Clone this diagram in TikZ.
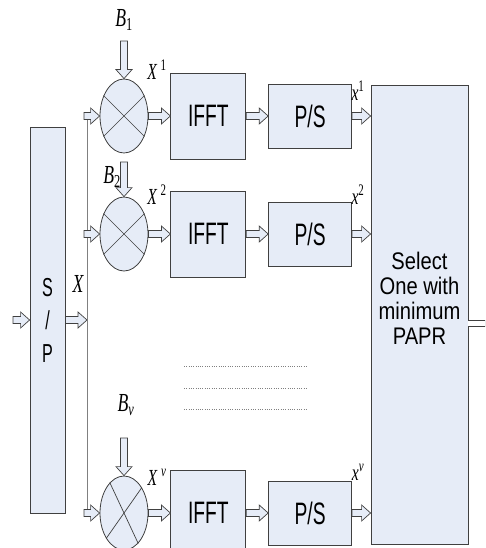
\documentclass[tikz,border=0pt]{standalone}
\usepackage{fontspec}
\setmainfont{Liberation Serif}
\newfontfamily\boxfont[FakeStretch=0.62]{Liberation Sans}
\newfontfamily\selfont[FakeStretch=0.84]{Liberation Sans}
\newfontfamily\labfont[FakeStretch=0.68]{Liberation Serif}
\usetikzlibrary{shapes.geometric, positioning, calc}
\definecolor{slmFill}{RGB}{230, 236, 247}
\definecolor{slmLine}{RGB}{64, 64, 64}
\definecolor{slmGray}{RGB}{128, 128, 128}

\begin{document}
\begin{tikzpicture}[
      x=1pt, y=-1pt,
      node distance = 22pt,
      block/.style = {draw=slmLine, fill=slmFill, line width=0.8pt,
                      inner sep=0pt, font=\boxfont\fontsize{31}{31}\selectfont},
      mult/.style  = {draw=slmLine, fill=slmFill, line width=0.8pt, ellipse,
                      minimum width=48pt, minimum height=74pt, inner sep=0pt},
      lab/.style   = {inner sep=0pt, font=\labfont\itshape\fontsize{23}{23}\selectfont},
      hollow/.style = {draw=slmLine, fill=slmFill, line width=0.7pt,
        to path={
          ($(\tikztostart)!3.5pt!90:(\tikztotarget)$)
          -- ($($(\tikztotarget)!9pt!(\tikztostart)$)!3.5pt!90:(\tikztotarget)$)
          -- ($($(\tikztotarget)!9pt!(\tikztostart)$)!8pt!90:(\tikztotarget)$)
          -- (\tikztotarget)
          -- ($($(\tikztotarget)!9pt!(\tikztostart)$)!8pt!-90:(\tikztotarget)$)
          -- ($($(\tikztotarget)!9pt!(\tikztostart)$)!3.5pt!-90:(\tikztotarget)$)
          -- ($(\tikztostart)!3.5pt!-90:(\tikztotarget)$) -- cycle}},
      dots/.style  = {slmGray, line width=0.9pt, dash pattern=on 1pt off 1.3pt},
    ]
    \useasboundingbox (0,0) rectangle (485,548);
    \clip (0,0) rectangle (485,548);
    %% ── S/P and bus ────────────────────────────────────────────
    \node (sp) [block, minimum width=35pt, minimum height=386pt, align=center,
                font=\boxfont\fontsize{26}{33}\selectfont] at (47.5,320) {S\\/\\P};
    \coordinate (in) at (13,320);
    \coordinate (bus) at (87,320);
    \coordinate (bustop) at (87,113);
    \coordinate (busbot) at (87,512);
    \draw[hollow] (in) to (sp.west);
    \draw[hollow] (sp.east) to (bus);
    \draw[slmGray, line width=0.8pt] (bustop) -- (busbot);
    \node (xbus) [lab, font=\labfont\itshape\fontsize{26}{26}\selectfont] at (78,284) {X};
    %% ── Selector ───────────────────────────────────────────────
    \node (sel) [block, minimum width=97pt, minimum height=459pt] at (419.5,314.5) {};
    \node (seltxt) [align=center, inner sep=0pt,
                    font=\selfont\fontsize{24}{25}\selectfont] at (419.5,298)
      {Select\\One with\\minimum\\PAPR};
    \coordinate (out) at (486,323.5);
    \draw[slmLine, line width=0.8pt, double=white, double distance=5pt]
      (out -| sel.east) -- (out);
    %% ── Branches ───────────────────────────────────────────────
    \foreach \i/\y in {1/116, 2/234, 3/513} {
      \node (m\i) [mult] at (124,\y) {};
      \node (f\i) [block, right=of m\i, minimum width=75pt, minimum height=86pt] {IFFT};
      \node (p\i) [block, right=of f\i, minimum width=83pt, minimum height=64pt] {P/S};
      \coordinate (t\i) at (84,\y);
      \draw[hollow] (t\i) to (m\i.west);
      \draw[hollow] (m\i.east) to (f\i.west);
      \draw[hollow] (f\i.east) to (p\i.west);
      \draw[hollow] (p\i.east) to (p\i.east -| sel.west);
    }
    \foreach \i/\a/\b/\c/\d in {1/45/225/135/315, 2/45/225/135/315, 3/115/295/55/235}
      \draw[slmLine, line width=0.7pt] (m\i.\a) -- (m\i.\b) (m\i.\c) -- (m\i.\d);
    %% ── Weights B ──────────────────────────────────────────────
    \node (b1) [lab, font=\labfont\itshape\fontsize{26}{26}\selectfont] at (124,20)
      {B\textsubscript{\upshape 1}};
    \node (b2) [lab, font=\labfont\itshape\fontsize{26}{26}\selectfont] at (112,177)
      {B\textsubscript{\upshape 2}};
    \node (bv) [lab, font=\labfont\itshape\fontsize{26}{26}\selectfont] at (126,405)
      {B\textsubscript{v}};
    \coordinate (b1a) at (124,41);
    \coordinate (b2a) at (124,162);
    \coordinate (bva) at (124,438);
    \draw[hollow] (b1a) to (m1.north);
    \draw[hollow] (b2a) to (m2.north);
    \draw[hollow] (bva) to (m3.north);
    %% ── Signal labels ──────────────────────────────────────────
    \node (X1) [lab] at (157,70)  {X\,\textsuperscript{\upshape 1}};
    \node (X2) [lab] at (157,195) {X\,\textsuperscript{\upshape 2}};
    \node (Xv) [lab] at (157,477) {X\,\textsuperscript{v}};
    \node (x1) [lab] at (358,91)  {x\textsuperscript{\upshape 1}};
    \node (x2) [lab] at (358,195) {x\textsuperscript{\upshape 2}};
    \node (xv) [lab] at (358,472) {x\textsuperscript{v}};
    %% ── Omitted branches ───────────────────────────────────────
    \foreach \k/\y in {1/366, 2/388, 3/409} {
      \coordinate (dl\k) at (184,\y);
      \coordinate (dr\k) at (306,\y);
      \draw[dots] (dl\k) -- (dr\k);
    }
  \end{tikzpicture}
\end{document}
